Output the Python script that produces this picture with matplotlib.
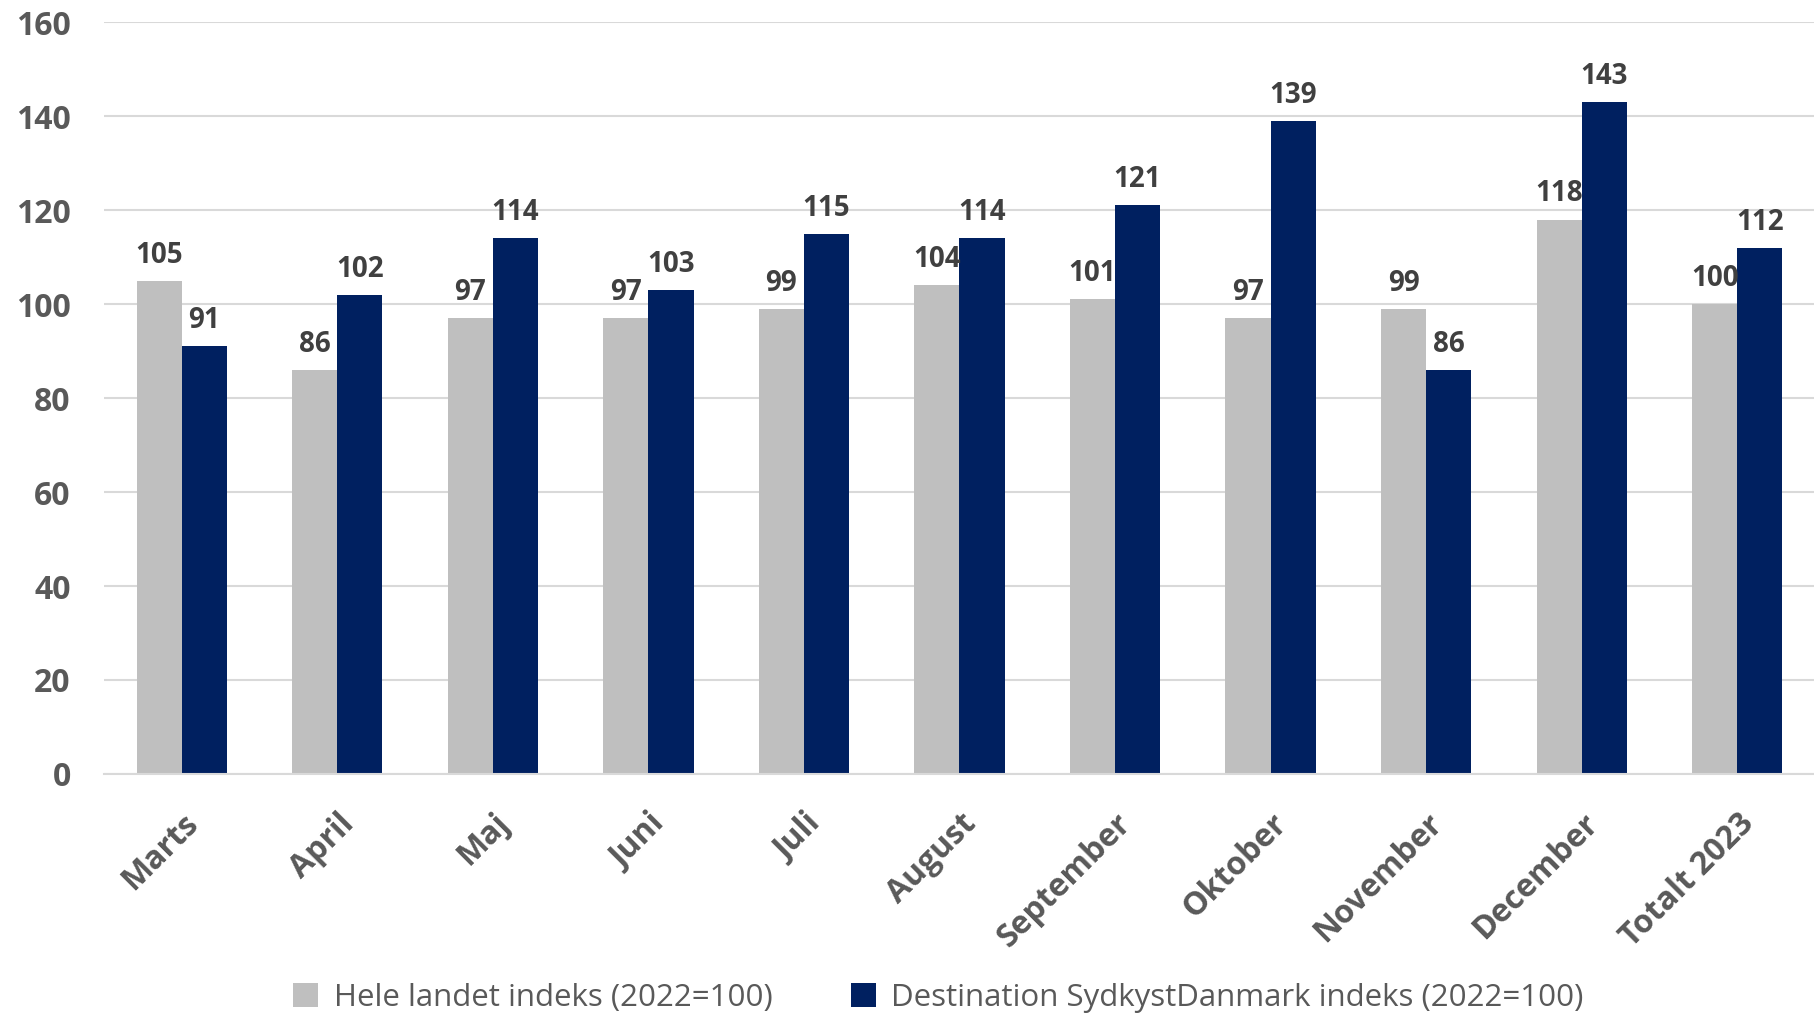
import numpy as np
from matplotlib import pyplot as plt

months = ['Marts', 'April', 'Maj', 'Juni', 'Juli', 'August', 'September',
          'Oktober', 'November', 'December', 'Totalt 2023']
hele_landet = [105, 86, 97, 97, 99, 104, 101, 97, 99, 118, 100]
sydkyst = [91, 102, 114, 103, 115, 114, 121, 139, 86, 143, 112]
yticks = [0, 20, 40, 60, 80, 100, 120, 140, 160]

plt.rcParams['font.family'] = ['Open Sans', 'DejaVu Sans']

fig = plt.figure(figsize=(18.15, 10.13), dpi=100)
ax = fig.add_axes([0.0573, 0.236, 0.9427, 0.742])

x = np.arange(len(months))
w = 0.29
b1 = ax.bar(x - w/2, hele_landet, w, color='#bfbfbf', label='Hele landet indeks (2022=100)', zorder=2)
b2 = ax.bar(x + w/2, sydkyst, w, color='#002060', label='Destination SydkystDanmark indeks (2022=100)', zorder=2)

for bars in (b1, b2):
    ax.bar_label(bars, padding=8, fontsize=20, fontweight='bold', color='#404040', zorder=3)

ax.set_xlim(-0.5, len(months) - 0.5)
ax.set_ylim(0, 160)
ax.set_yticks(yticks)
ax.yaxis.grid(True, color='#d9d9d9', linewidth=1.5, zorder=0)
ax.set_axisbelow(True)
for s in ['top', 'right', 'left']:
    ax.spines[s].set_visible(False)
ax.spines['bottom'].set_color('#d9d9d9')
ax.spines['bottom'].set_linewidth(1.5)
ax.tick_params(axis='both', length=0, labelsize=23, labelcolor='#595959')
ax.tick_params(axis='y', pad=24)
ax.tick_params(axis='x', pad=24)
ax.set_xticks(x)
ax.set_xticklabels(months, rotation=45, ha='right', rotation_mode='anchor', fontweight='bold')
for t in ax.get_yticklabels():
    t.set_fontweight('bold')

fig.legend(loc='lower center', bbox_to_anchor=(0.517, -0.028), ncol=2, frameon=False,
           fontsize=22.5, labelcolor='#595959', handlelength=0.8, handleheight=0.8,
           columnspacing=2.5, handletextpad=0.5)

plt.savefig('out.png')
